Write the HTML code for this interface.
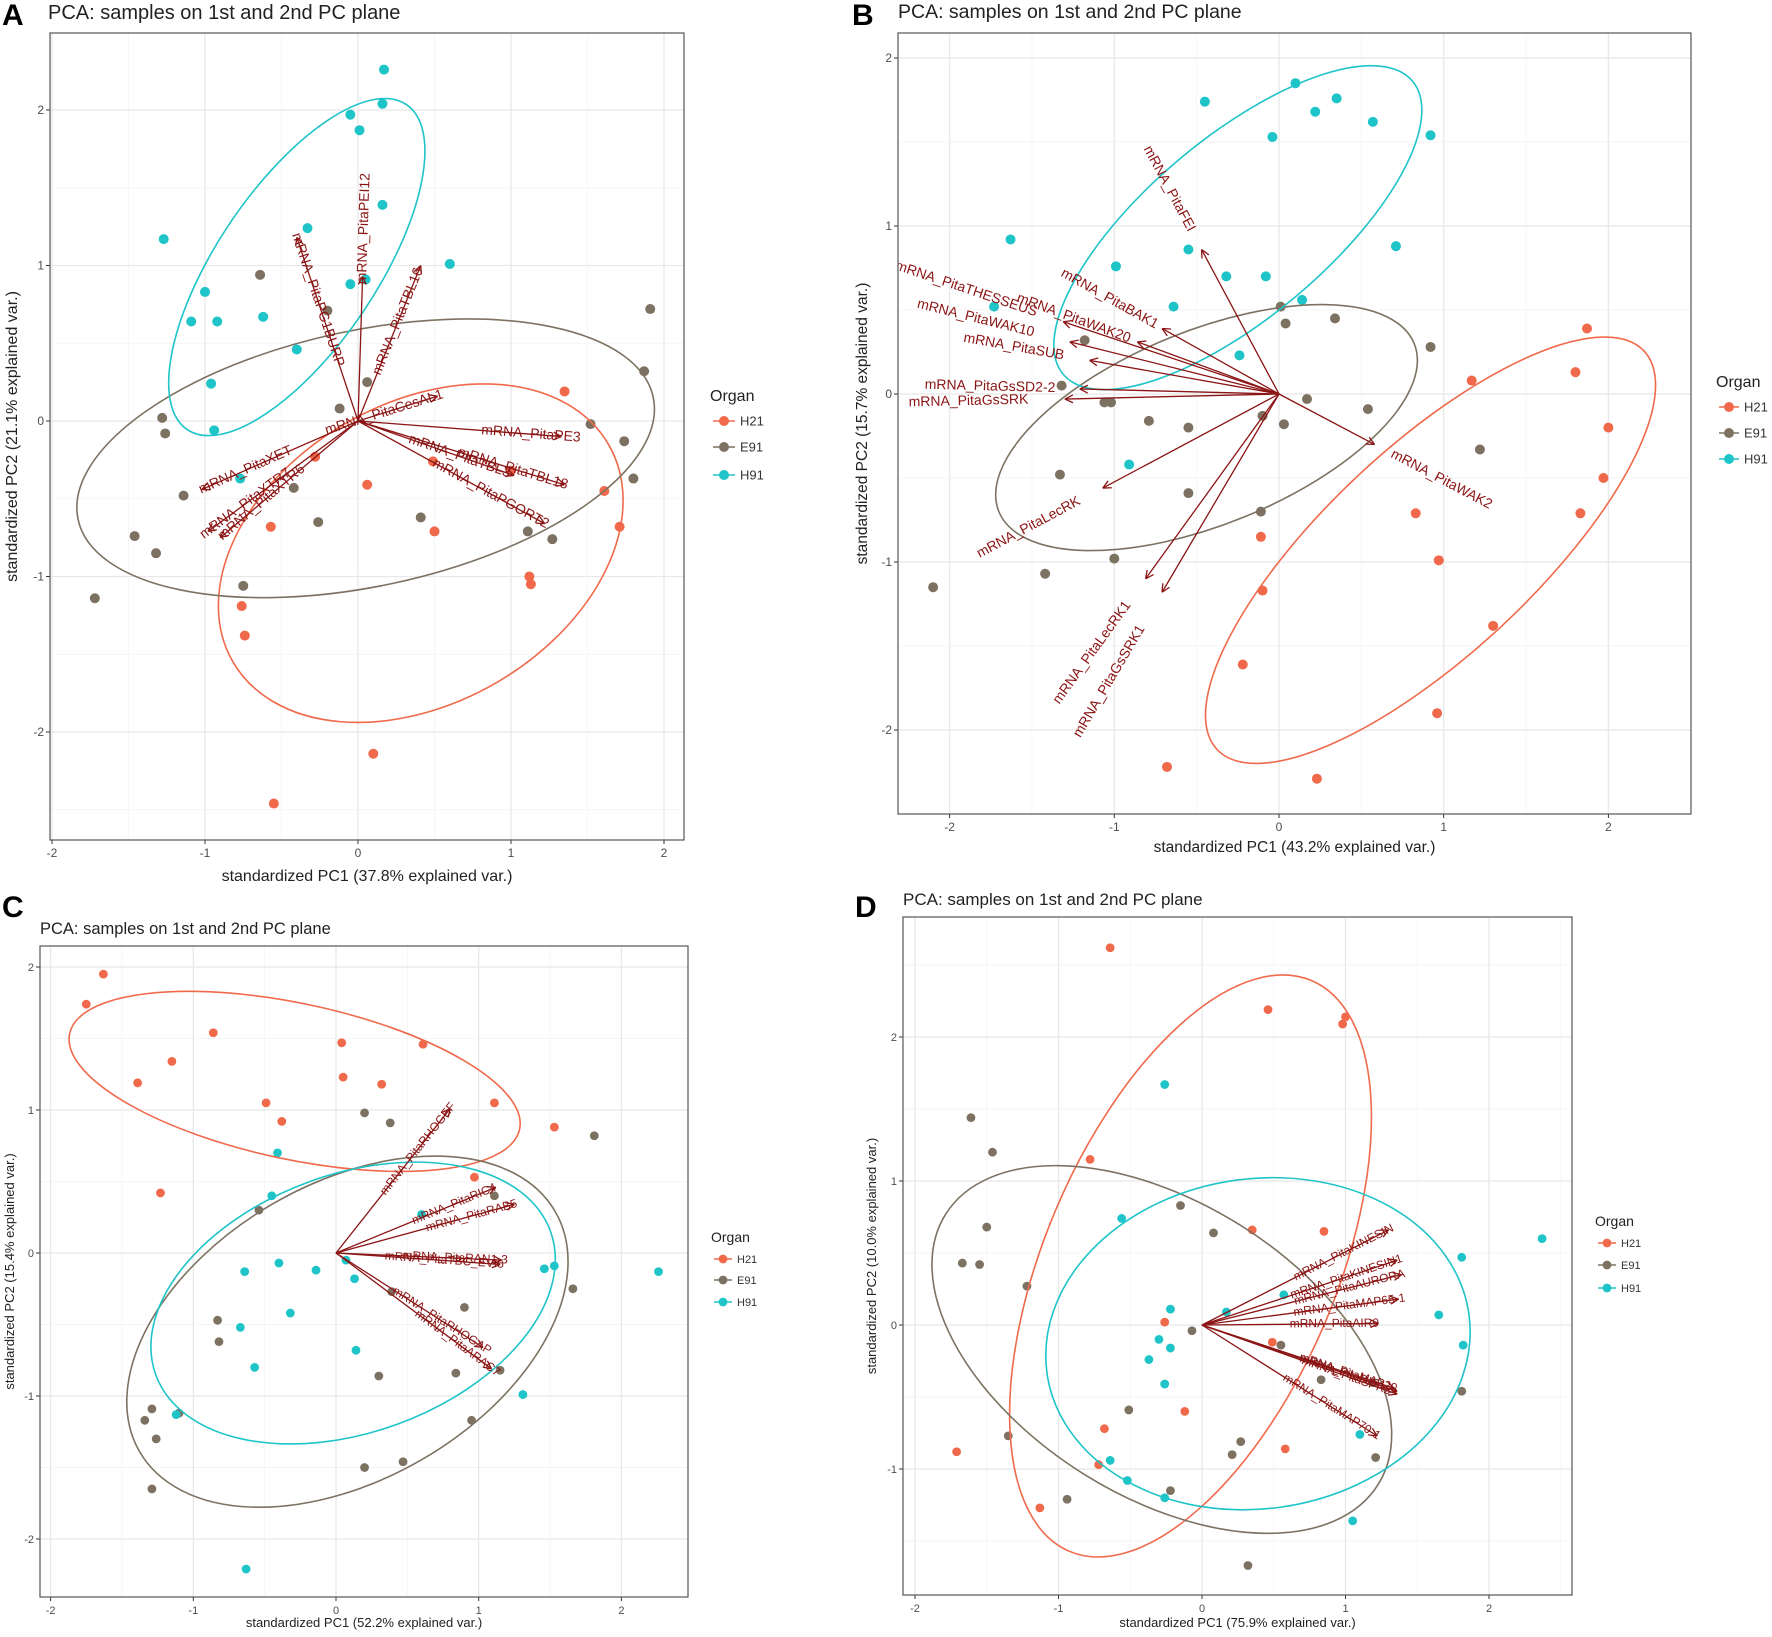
<!DOCTYPE html>
<html><head><meta charset="utf-8"><style>
html,body{margin:0;padding:0;background:#fff;overflow:hidden;width:1772px;height:1637px}
svg{display:block;font-family:"Liberation Sans",sans-serif}
</style></head><body>
<svg id="fig" width="1772" height="1637" viewBox="0 0 1772 1637" xmlns="http://www.w3.org/2000/svg"></svg>
<script>
// ---------- Panel A data ----------
const aH21x=[1.35,-0.28,0.49,0.06,1.0,1.61,1.71,-0.57,0.50,1.12,1.13,-0.76,-0.74,0.10,-0.55];
const aH21y=[0.19,-0.23,-0.26,-0.41,-0.32,-0.45,-0.68,-0.68,-0.71,-1.0,-1.05,-1.19,-1.38,-2.14,-2.46];
const aE91x=[-0.64,-0.20,0.06,-0.12,-1.28,-1.26,1.91,1.87,1.52,1.74,1.80,-1.14,-0.42,-1.46,-1.32,-1.72,-0.75,-0.26,0.41,1.11,1.27];
const aE91y=[0.94,0.71,0.25,0.08,0.02,-0.08,0.72,0.32,-0.02,-0.13,-0.37,-0.48,-0.43,-0.74,-0.85,-1.14,-1.06,-0.65,-0.62,-0.71,-0.76];
const aH91x=[0.17,0.16,-0.05,0.01,0.16,-0.33,-1.27,0.60,-0.05,0.05,-1.0,-1.09,-0.92,-0.62,-0.40,-0.96,-0.94,-0.77];
const aH91y=[2.26,2.04,1.97,1.87,1.39,1.24,1.17,1.01,0.88,0.91,0.83,0.64,0.64,0.67,0.46,0.24,-0.06,-0.37];
const aVarNames=["mRNA_PitaPEI12","mRNA_PitaPG1BURP","mRNA_PitaTBL16","mRNA_PitaCesAL1","mRNA_PitaPE3","mRNA_PitaTBL18","mRNA_PitaTBL3","mRNA_PitaPGORT2","mRNA_PitaXET","mRNA_PitaXTR7","mRNA_PitaXTR6"];
const aVarX=[0.03,-0.40,0.41,0.52,1.33,1.35,1.02,1.22,-1.02,-0.98,-0.90];
const aVarY=[0.93,1.18,1.0,0.16,-0.10,-0.41,-0.35,-0.66,-0.44,-0.71,-0.75];
const aLabK=[1.33,0.66,0.64,0.33,0.85,0.75,0.65,0.71,0.72,0.75,0.70];
const aEll={H21:[0.41,-0.85,217,150,-30],E91:[0.05,-0.24,294,128,-12],H91:[-0.40,0.99,196,80,-56]};
// ---------- Panel B data ----------
const bH21x=[1.87,1.80,1.17,2.0,1.97,1.83,0.83,0.97,-0.11,-0.10,1.30,-0.22,0.96,-0.68,0.23];
const bH21y=[0.39,0.13,0.08,-0.20,-0.50,-0.71,-0.71,-0.99,-0.85,-1.17,-1.38,-1.61,-1.90,-2.22,-2.29];
const bE91x=[0.01,0.04,0.34,0.92,-1.18,-1.32,-1.06,-1.02,0.17,0.54,-0.79,-0.55,-0.10,0.03,1.22,-1.33,-0.55,-0.11,-1.0,-1.42,-2.10];
const bE91y=[0.52,0.42,0.45,0.28,0.32,0.05,-0.05,-0.05,-0.03,-0.09,-0.16,-0.20,-0.13,-0.18,-0.33,-0.48,-0.59,-0.70,-0.98,-1.07,-1.15];
const bH91x=[-0.45,0.10,0.22,0.35,0.57,-0.04,0.92,-1.63,-0.55,-0.99,0.71,-0.32,-0.08,-0.64,0.14,-1.73,-0.24,-0.91];
const bH91y=[1.74,1.85,1.68,1.76,1.62,1.53,1.54,0.92,0.86,0.76,0.88,0.70,0.70,0.52,0.56,0.52,0.23,-0.42];
const bVarNames=["mRNA_PitaFEI","mRNA_PitaBAK1","mRNA_PitaTHESSEUS","mRNA_PitaWAK20","mRNA_PitaWAK10","mRNA_PitaSUB","mRNA_PitaGsSD2-2","mRNA_PitaGsSRK","mRNA_PitaLecRK","mRNA_PitaLecRK1","mRNA_PitaGsSRK1","mRNA_PitaWAK2"];
const bVarX=[-0.47,-0.71,-1.31,-0.86,-1.27,-1.15,-1.21,-1.30,-1.07,-0.81,-0.71,0.58];
const bVarY=[0.86,0.39,0.43,0.31,0.31,0.20,0.03,-0.03,-0.56,-1.10,-1.18,-0.30];
const bLabK=[1.42,1.45,1.45,1.45,1.45,1.40,1.45,1.45,1.42,1.40,1.45,1.70];
const bEll={H21:[0.92,-0.93,292,104,-43],E91:[-0.44,-0.20,224,97,-22],H91:[-0.25,0.99,228,90,-40]};
// ---------- Panel C data ----------
const cH21x=[-1.63,-1.75,-0.86,-1.15,-1.39,0.04,0.61,0.05,0.32,-0.49,-0.38,1.11,1.53,-1.23,0.97];
const cH21y=[1.95,1.74,1.54,1.34,1.19,1.47,1.46,1.23,1.18,1.05,0.92,1.05,0.88,0.42,0.53];
const cE91x=[0.20,0.38,1.81,1.11,-0.54,1.66,0.39,0.90,-0.83,-0.82,0.30,0.84,1.15,-1.29,-1.34,-1.10,-1.26,0.95,0.20,0.47,-1.29];
const cE91y=[0.98,0.91,0.82,0.40,0.30,-0.25,-0.27,-0.38,-0.47,-0.62,-0.86,-0.84,-0.82,-1.09,-1.17,-1.12,-1.30,-1.17,-1.50,-1.46,-1.65];
const cH91x=[-0.41,-0.45,0.60,-0.40,-0.64,-0.14,0.07,0.13,-0.32,-0.67,-0.57,0.14,1.46,1.53,2.26,1.31,-1.12,-0.63];
const cH91y=[0.70,0.40,0.27,-0.07,-0.13,-0.12,-0.05,-0.18,-0.42,-0.52,-0.80,-0.68,-0.11,-0.09,-0.13,-0.99,-1.13,-2.21];
const cVarNames=["mRNA_PitaRHOGEF","mRNA_PitaRIC4","mRNA_PitaRAB5","mRNA_PitaRAN1-3","mRNA_PitaTBC_EVI5","mRNA_PitaRHOGAP","mRNA_PitaARAC7"];
const cVarX=[0.80,1.12,1.25,1.16,1.15,1.03,1.09];
const cVarY=[1.01,0.46,0.34,-0.05,-0.08,-0.66,-0.81];
const cLabK=[0.72,0.74,0.76,0.72,0.66,0.72,0.78];
const cEll={H21:[-0.29,1.20,230,78,12],E91:[0.08,-0.55,240,148,-30],H91:[0.12,-0.35,210,129,-20]};
// ---------- Panel D data ----------
const dH21x=[-0.64,0.46,1.0,0.98,-0.78,0.35,0.85,-0.26,0.49,-0.12,-0.68,0.58,-1.71,-0.72,-1.13];
const dH21y=[2.62,2.19,2.14,2.09,1.15,0.66,0.65,0.02,-0.12,-0.60,-0.72,-0.86,-0.88,-0.97,-1.27];
const dE91x=[-1.61,-1.46,-1.50,-1.67,-1.55,-1.22,-0.15,0.08,-0.07,0.55,0.83,1.19,1.81,-0.51,-1.35,0.27,0.21,1.21,-0.94,-0.22,0.32];
const dE91y=[1.44,1.20,0.68,0.43,0.42,0.27,0.83,0.64,-0.04,-0.14,-0.38,-0.40,-0.46,-0.59,-0.77,-0.81,-0.90,-0.92,-1.21,-1.15,-1.67];
const dH91x=[-0.26,-0.56,2.37,1.81,0.57,-0.22,0.17,1.65,1.82,-0.30,-0.22,-0.37,-0.26,1.10,-0.64,-0.52,-0.26,1.05];
const dH91y=[1.67,0.74,0.60,0.47,0.21,0.11,0.09,0.07,-0.14,-0.10,-0.16,-0.24,-0.41,-0.76,-0.94,-1.08,-1.20,-1.36];
const dVarNames=["mRNA_PitaKINESIN","mRNA_PitaKINESIN1","mRNA_PitaAURORA","mRNA_PitaMAP65-1","mRNA_PitaAIR9","mRNA_PitaDIS1","mRNA_PitaSPR2","mRNA_PitaMAP20","mRNA_PitaMAP70-1"];
const dVarX=[1.30,1.36,1.39,1.37,1.23,1.36,1.36,1.34,1.22];
const dVarY=[0.66,0.45,0.35,0.18,0.01,-0.46,-0.48,-0.44,-0.77];
const dLabK=[0.76,0.74,0.74,0.75,0.75,0.72,0.74,0.76,0.74];
const dEll={H21:[-0.08,0.41,310,146,-67],E91:[-0.28,-0.17,255,147,32],H91:[0.39,-0.13,213,165,-8]};
const ticks=[-2,-1,0,1,2];
const dYTicks=[-1,0,1,2];

const COL={H21:"#F0694B",E91:"#7D7262",H91:"#1EC4C8"};
const ARROW="#8B1414";
const NS="http://www.w3.org/2000/svg";
const fig=document.getElementById('fig');
function mk(tag,attrs,parent){const e=document.createElementNS(NS,tag);for(const k in attrs)e.setAttribute(k,attrs[k]);(parent||fig).appendChild(e);return e;}
function txt(s,attrs,parent){const e=mk('text',attrs,parent);e.textContent=s;return e;}

function panel(p){
  const g=mk('g',{});
  
  
  const X=v=>p.x0+v*p.ux, Y=v=>p.y0-v*p.uy;
  const bx=p.box;
  const r=mk('rect',{x:bx[0],y:bx[1],width:bx[2]-bx[0],height:bx[3]-bx[1],fill:'#fff'},g);
  
  
  const cp='clip'+p.id;
  const cl=mk('clipPath',{id:cp},g);mk('rect',{x:bx[0],y:bx[1],width:bx[2]-bx[0],height:bx[3]-bx[1]},cl);
  const grid=mk('g',{'clip-path':'url(#'+cp+')'},g);
  
  
  for(let v=-3;v<=3;v+=0.5){
    const w=(v%1===0)?1.3:0.7, c=(v%1===0)?'#e8e8e8':'#f2f2f2';
    mk('line',{x1:X(v),x2:X(v),y1:bx[1],y2:bx[3],stroke:c,'stroke-width':w},grid);
    mk('line',{y1:Y(v),y2:Y(v),x1:bx[0],x2:bx[2],stroke:c,'stroke-width':w},grid);
  }
  p.xt.forEach(t=>{mk('line',{x1:X(t),x2:X(t),y1:bx[3],y2:bx[3]+4,stroke:'#333'},g);
    const l=txt(String(t),{x:X(t),y:bx[3]+17,'font-size':p.tf,fill:'#4d4d4d','text-anchor':'middle'},g);
    });
  p.yt.forEach(t=>{mk('line',{x1:bx[0]-4,x2:bx[0],y1:Y(t),y2:Y(t),stroke:'#333'},g);
    const l=txt(String(t),{x:bx[0]-6,y:Y(t)+4,'font-size':p.tf,fill:'#4d4d4d','text-anchor':'end'},g);
    });
  const plot=mk('g',{'clip-path':'url(#'+cp+')'},g);
  ['H21','E91','H91'].forEach(k=>{
    const xs=p.pts[k][0], ys=p.pts[k][1];
    xs.forEach((xv,i)=>{const c=mk('circle',{cx:X(xv),cy:Y(ys[i]),r:p.pr,fill:COL[k]},plot);
      
      });
  });
  ['H21','E91','H91'].forEach(k=>{
    const e=p.ell[k];const cx=X(e[0]),cy=Y(e[1]);
    const el=mk('ellipse',{cx:cx,cy:cy,rx:e[2],ry:e[3],transform:`rotate(${e[4]} ${cx} ${cy})`,fill:'none',stroke:COL[k],'stroke-width':1.6},plot);
    
    
  });
  const ox=X(0),oy=Y(0);
  p.vx.forEach((vx,i)=>{
    const tx=X(vx),ty=Y(p.vy[i]);
    const ag=mk('g',{stroke:ARROW,'stroke-width':1.3,fill:'none'},plot);
    
    
    mk('line',{x1:ox,y1:oy,x2:tx,y2:ty},ag);
    const a=Math.atan2(ty-oy,tx-ox),L=9;
    [a+Math.PI-0.45,a+Math.PI+0.45].forEach(b=>mk('line',{x1:tx,y1:ty,x2:tx+L*Math.cos(b),y2:ty+L*Math.sin(b)},ag));
    const k=p.lk[i];const lx=X(vx*k),ly=Y(p.vy[i]*k);
    let ang=-Math.atan(p.vy[i]*p.uy/(vx*p.ux))*180/Math.PI;
    const t=txt(p.vn[i],{x:lx,y:ly,'font-size':p.lf,fill:ARROW,'text-anchor':'middle','dominant-baseline':'middle',transform:`rotate(${ang} ${lx} ${ly})`},plot);
    
    
  });
  mk('rect',{x:bx[0],y:bx[1],width:bx[2]-bx[0],height:bx[3]-bx[1],fill:'none',stroke:'#555','stroke-width':1.2},g);
  let t=txt('PCA: samples on 1st and 2nd PC plane',{x:p.title[0],y:p.title[1],'font-size':p.title[2],fill:'#222'},g);
  
  t=txt(p.id,{x:p.letter[0],y:p.letter[1],'font-size':30,'font-weight':'bold',fill:'#000'},g);
  
  t=txt(p.xlab,{x:(bx[0]+bx[2])/2,y:p.xly,'font-size':p.af,fill:'#222','text-anchor':'middle'},g);
  
  const cyl=(bx[1]+bx[3])/2;
  t=txt(p.ylab,{x:p.ylx,y:cyl,'font-size':p.af,fill:'#222','text-anchor':'middle',transform:`rotate(-90 ${p.ylx} ${cyl})`},g);
  
  const lg=mk('g',{},g);
  
  
  const L=p.leg;
  txt('Organ',{x:L.x,y:L.ty,'font-size':L.f1,fill:'#222'},lg);
  ['H21','E91','H91'].forEach((k,i)=>{
    const e=mk('g',{},lg);
    
    
    const y=L.ys[i];
    mk('line',{x1:L.x+3,x2:L.x+L.kw+3,y1:y,y2:y,stroke:COL[k],'stroke-width':1.5},e);
    mk('circle',{cx:L.x+3+L.kw/2,cy:y,r:p.pr,fill:COL[k]},e);
    txt(k,{x:L.x+L.kw+8,y:y+L.f2*0.36,'font-size':L.f2,fill:'#333'},e);
  });
}

panel({id:'A',box:[50,33,684,840],x0:358,ux:153,y0:421,uy:155.5,xt:ticks,yt:ticks,tf:12,pr:5,lf:14,
  pts:{H21:[aH21x,aH21y],E91:[aE91x,aE91y],H91:[aH91x,aH91y]},ell:aEll,vx:aVarX,vy:aVarY,vn:aVarNames,lk:aLabK,
  title:[48,19,20],letter:[2,25],xlab:'standardized PC1 (37.8% explained var.)',xly:881,ylab:'standardized PC2 (21.1% explained var.)',ylx:17,af:16,
  leg:{x:710,ty:401,f1:16,f2:13,kw:22,ys:[421,447,475]}});
panel({id:'B',box:[898,33,1691,814],x0:1279,ux:164.7,y0:394,uy:168,xt:ticks,yt:ticks,tf:12,pr:5,lf:14,
  pts:{H21:[bH21x,bH21y],E91:[bE91x,bE91y],H91:[bH91x,bH91y]},ell:bEll,vx:bVarX,vy:bVarY,vn:bVarNames,lk:bLabK,
  title:[898,18,19.5],letter:[852,25],xlab:'standardized PC1 (43.2% explained var.)',xly:852,ylab:'standardized PC2 (15.7% explained var.)',ylx:867,af:15.5,
  leg:{x:1716,ty:387,f1:16,f2:13,kw:20,ys:[407,433,459]}});
panel({id:'C',box:[40,946,688,1597],x0:336,ux:142.7,y0:1253,uy:143,xt:ticks,yt:ticks,tf:11,pr:4.4,lf:12,
  pts:{H21:[cH21x,cH21y],E91:[cE91x,cE91y],H91:[cH91x,cH91y]},ell:cEll,vx:cVarX,vy:cVarY,vn:cVarNames,lk:cLabK,
  title:[40,934,16.5],letter:[2,917],xlab:'standardized PC1 (52.2% explained var.)',xly:1627,ylab:'standardized PC2 (15.4% explained var.)',ylx:14,af:13,
  leg:{x:711,ty:1242,f1:14,f2:11,kw:18,ys:[1259,1280,1302]}});
panel({id:'D',box:[903,917,1572,1595],x0:1202,ux:143.5,y0:1325,uy:144,xt:ticks,yt:dYTicks,tf:11,pr:4.4,lf:12,
  pts:{H21:[dH21x,dH21y],E91:[dE91x,dE91y],H91:[dH91x,dH91y]},ell:dEll,vx:dVarX,vy:dVarY,vn:dVarNames,lk:dLabK,
  title:[903,905,17],letter:[855,917],xlab:'standardized PC1 (75.9% explained var.)',xly:1627,ylab:'standardized PC2 (10.0% explained var.)',ylx:876,af:13,
  leg:{x:1595,ty:1226,f1:14,f2:11,kw:18,ys:[1243,1265,1288]}});
</script>
</body></html>
